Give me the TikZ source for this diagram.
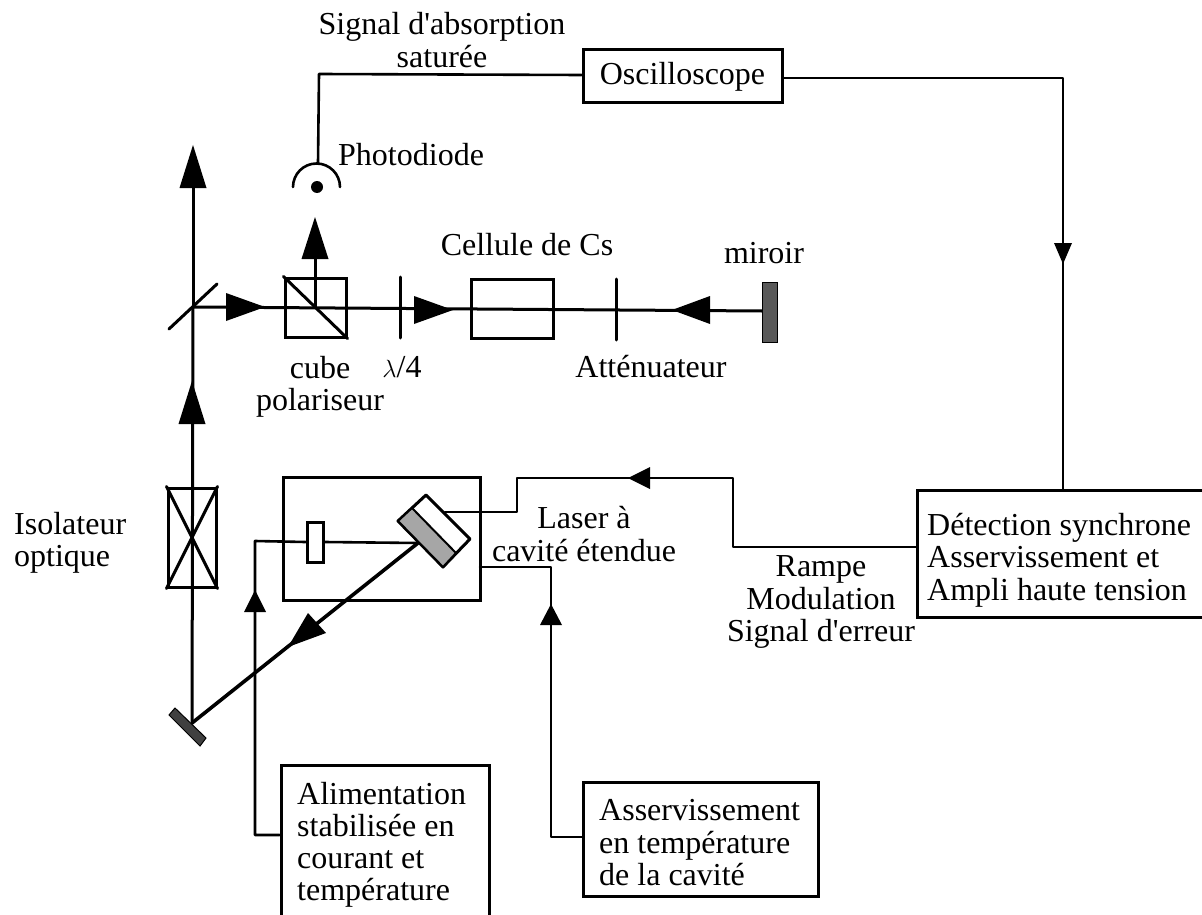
\documentclass[tikz,border=0pt]{standalone}
\usepackage{fontspec}
\setmainfont{Liberation Serif}[Ligatures=TeXOff]
\tikzset{
  wire/.style={line width=2.6pt,line cap=round,line join=round},
  beam/.style={line width=3pt,line cap=round,line join=round},
  box/.style={draw,line width=3pt,inner sep=0pt},
  lab/.style={font=\fontsize{32}{32.5}\selectfont,align=center,inner sep=0pt},
  labl/.style={font=\fontsize{32}{32.5}\selectfont,align=left,inner sep=0pt}
}
% arrow head: tip x y, rotation (0 = pointing up), half-width, length
\newcommand{\ahead}[5]{\fill[black,shift={(#1,#2)},rotate=#3] (0,0) -- (#4,#5) -- (-#4,#5) -- cycle;}
\begin{document}
\begin{tikzpicture}[x=1pt,y=-1pt]
\useasboundingbox (0,0) rectangle (1202,915);
\clip (0,0) rectangle (1202,915);
% boxes
\node[box,minimum width=199pt,minimum height=53pt,font=\fontsize{32}{32.5}\selectfont] (osc) at (682.5,76.5) {Oscilloscope};
\node[box,minimum width=288pt,minimum height=127pt] (det) at (1061,553.5) {};
\node[labl,anchor=west] (dettxt) at (927,560) {Détection synchrone\\Asservissement et\\Ampli haute tension};
\node[box,minimum width=208pt,minimum height=170pt] (ali) at (385,850) {};
\node[labl,anchor=west,font=\fontsize{32}{32}\selectfont] (alitxt) at (297,845) {Alimentation\\stabilisée en\\courant et\\température};
\node[box,minimum width=235pt,minimum height=114pt] (ass) at (700.5,839) {};
\node[labl,anchor=west] (asstxt) at (599,843) {Asservissement\\en température\\de la cavité};
\node[box,minimum width=197pt,minimum height=123pt] (las) at (381.5,538.5) {};
\node[box,minimum width=48pt,minimum height=99pt] (iso) at (192,537.5) {};
\node[box,minimum width=61pt,minimum height=59pt] (cube) at (315.5,307.5) {};
\node[box,minimum width=82pt,minimum height=59pt] (cell) at (512,308.5) {};
\node[box,minimum width=16pt,minimum height=40pt] (etalon) at (315,542) {};
% named coordinates
\coordinate (pd) at (318,163);
\coordinate (bs) at (193,307);
\coordinate (cubec) at (315,307);
\coordinate (mir) at (762,311);
\coordinate (gbeam) at (418,543);
\coordinate (mbot) at (192,723);
\coordinate (gpz) at (445,512);
% optical beams
\draw[beam] (bs) -- (193,180);
\draw[beam] (mbot) -- (bs);
\draw[beam] (bs) -- (mir);
\draw[beam] (cubec) -- (315,250);
\draw[line width=3.6pt,line cap=round] (gbeam) -- (mbot);
\draw[beam] (iso.north west) -- (iso.south east);
\draw[beam] (iso.north east) -- (iso.south west);
\draw[beam] (cube.north west) -- (cube.south east);
% beam splitter and plates
\draw[beam] (169,329) -- (217,284);
\draw[beam] (400,277) -- (400,338);
\draw[beam] (616,279) -- (616,340);
% mirrors
\fill[black!65,draw=black,line width=1pt] (762,282) rectangle (777,342);
\fill[black!75,draw=black,line width=1pt] (169,715) -- (175,708) -- (206,738) -- (200,746) -- cycle;
% grating block
\draw[beam,fill=white] (426,495) -- (470,539) -- (443,567) -- (398,521) -- cycle;
\fill[black!35,draw=black,line width=2pt] (398,521) -- (412,508) -- (456,553) -- (443,567) -- cycle;
% wires
\draw[wire] (etalon.east) -- (gbeam);
\draw[wire] (etalon.west) -- (255,541) -- (255,835) -- (ali.west |- 0,835);
\draw[wire] (gpz) -- (517,512) -- (517,478) -- (733,478) -- (733,547) -- (det.west |- 0,547);
\draw[wire] (480,567) -- (551,567) -- (551,837) -- (ass.west |- 0,837);
\draw[wire] (osc.west |- 0,75) -- (319,74) -- (pd);
\draw[wire] (osc.east |- 0,78) -- (1063,78) -- (det.north -| 1063,0);
% photodiode
\draw[line width=2.6pt,line cap=round] (293,187) arc[start angle=180,end angle=360,radius=23.5];
\fill (317,187) circle[radius=6];
% heads
\ahead{193}{145}{0}{13.5}{43}
\ahead{192}{381}{0}{13.5}{43}
\ahead{315}{217}{0}{13.5}{42}
\ahead{265}{307}{-90}{14}{39}
\ahead{453}{310}{-90}{14}{39}
\ahead{672}{310}{90}{14}{38}
\ahead{255}{590}{0}{11}{22}
\ahead{551}{604}{0}{11}{21}
\ahead{628}{478}{90}{11}{22}
\ahead{1063}{264}{180}{9}{21}
\fill[black] (288,647) -- (308,613) -- (326,633) -- cycle;
% labels
\node[lab,anchor=base] (t1) at (442,35) {Signal d'absorption};
\node[lab,anchor=base] (t2) at (442,68) {saturée};
\node[lab,anchor=base west] (t3) at (338,165) {Photodiode};
\node[lab,anchor=base] (t4) at (527,255) {Cellule de Cs};
\node[lab,anchor=base] (t5) at (764,263) {miroir};
\node[lab] (t6) at (320,387) {cube\\polariseur};
\node[lab,anchor=base] (t7) at (402,377) {$\lambda$/4};
\node[lab,anchor=base] (t8) at (651,377) {Atténuateur};
\node[labl,anchor=west] (t9) at (14,543) {Isolateur\\optique};
\node[lab] (t10) at (584,534) {Laser à\\cavité étendue};
\node[lab] (t11) at (821,602) {Rampe\\Modulation\\Signal d'erreur};
\end{tikzpicture}
\end{document}
